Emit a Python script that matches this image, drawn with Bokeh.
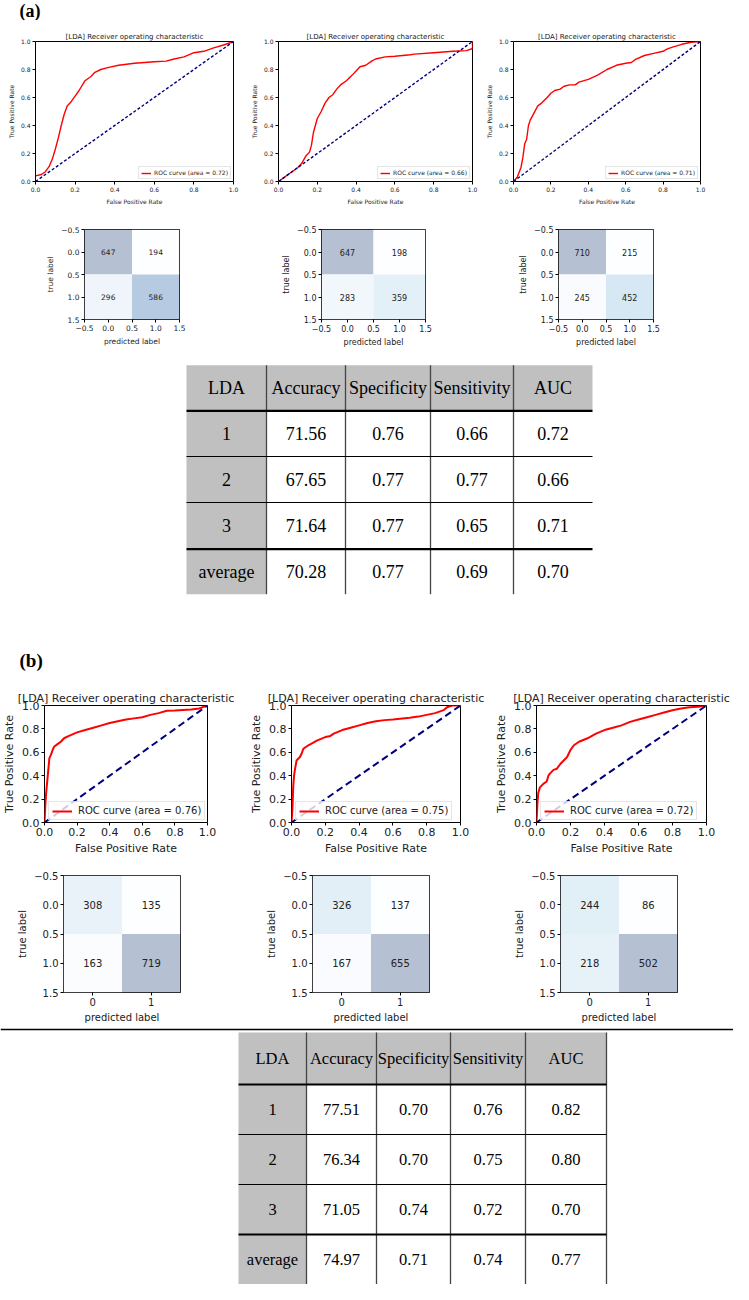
import numpy as np
from bokeh.plotting import figure
from bokeh.layouts import column, row
from bokeh.models import Range1d, FixedTicker, Legend, LegendItem, ColumnDataSource
from bokeh.core.properties import value
from bokeh.palettes import Blues256
from bokeh.embed import file_html
from bokeh.resources import INLINE

# ---------------- data ----------------
roc_title = "[LDA] Receiver operating characteristic"
roc_ticks = [0.0, 0.2, 0.4, 0.6, 0.8, 1.0]
chance = [0.0, 1.0]

a1_fpr = [0.0, 0.03, 0.05, 0.07, 0.085, 0.10, 0.115, 0.13, 0.145, 0.16, 0.18, 0.20, 0.22, 0.25, 0.28, 0.30, 0.33, 0.37, 0.42, 0.50, 0.60, 0.66, 0.70, 0.75, 0.80, 0.85, 0.90, 0.95, 1.0]
a1_tpr = [0.04, 0.05, 0.07, 0.11, 0.16, 0.23, 0.31, 0.40, 0.48, 0.54, 0.57, 0.61, 0.65, 0.72, 0.75, 0.78, 0.80, 0.815, 0.83, 0.845, 0.855, 0.86, 0.875, 0.89, 0.92, 0.93, 0.955, 0.975, 1.0]
a2_fpr = [0.0, 0.05, 0.10, 0.12, 0.14, 0.16, 0.17, 0.18, 0.19, 0.20, 0.22, 0.24, 0.26, 0.28, 0.30, 0.32, 0.35, 0.38, 0.40, 0.42, 0.45, 0.48, 0.50, 0.55, 0.60, 0.68, 0.70, 0.80, 0.90, 0.97, 1.0, 1.0]
a2_tpr = [0.0, 0.05, 0.10, 0.13, 0.18, 0.21, 0.26, 0.35, 0.40, 0.45, 0.50, 0.56, 0.60, 0.62, 0.66, 0.69, 0.72, 0.76, 0.79, 0.82, 0.83, 0.86, 0.875, 0.89, 0.895, 0.905, 0.91, 0.92, 0.93, 0.935, 0.95, 1.0]
a3_fpr = [0.0, 0.02, 0.04, 0.05, 0.06, 0.07, 0.08, 0.09, 0.11, 0.13, 0.15, 0.18, 0.20, 0.22, 0.25, 0.27, 0.30, 0.33, 0.35, 0.40, 0.45, 0.50, 0.55, 0.60, 0.63, 0.65, 0.70, 0.75, 0.80, 0.82, 0.85, 0.90, 0.95, 1.0]
a3_tpr = [0.0, 0.03, 0.10, 0.17, 0.27, 0.30, 0.40, 0.44, 0.49, 0.54, 0.56, 0.60, 0.63, 0.65, 0.66, 0.68, 0.69, 0.69, 0.71, 0.73, 0.76, 0.80, 0.83, 0.845, 0.85, 0.87, 0.90, 0.915, 0.93, 0.945, 0.96, 0.98, 0.995, 1.0]
auc_a = ["0.72", "0.66", "0.71"]

b1_fpr = [0.0, 0.005, 0.01, 0.02, 0.03, 0.04, 0.05, 0.06, 0.08, 0.10, 0.12, 0.15, 0.20, 0.25, 0.30, 0.35, 0.40, 0.45, 0.50, 0.55, 0.60, 0.65, 0.70, 0.75, 0.80, 0.90, 0.95, 1.0]
b1_tpr = [0.0, 0.15, 0.25, 0.40, 0.55, 0.58, 0.62, 0.65, 0.67, 0.69, 0.72, 0.74, 0.77, 0.79, 0.81, 0.83, 0.85, 0.865, 0.88, 0.89, 0.90, 0.92, 0.935, 0.955, 0.957, 0.965, 0.975, 1.0]
b2_fpr = [0.0, 0.005, 0.01, 0.015, 0.02, 0.03, 0.05, 0.06, 0.07, 0.10, 0.15, 0.20, 0.23, 0.25, 0.30, 0.35, 0.40, 0.45, 0.50, 0.55, 0.60, 0.70, 0.75, 0.80, 0.85, 0.90, 0.92, 0.95, 1.0]
b2_tpr = [0.0, 0.10, 0.30, 0.40, 0.45, 0.53, 0.56, 0.59, 0.63, 0.66, 0.70, 0.73, 0.74, 0.76, 0.79, 0.81, 0.83, 0.85, 0.865, 0.875, 0.88, 0.895, 0.905, 0.92, 0.935, 0.96, 0.985, 1.0, 1.0]
b3_fpr = [0.0, 0.005, 0.01, 0.02, 0.04, 0.06, 0.07, 0.08, 0.10, 0.12, 0.14, 0.16, 0.18, 0.20, 0.22, 0.25, 0.30, 0.35, 0.40, 0.45, 0.50, 0.55, 0.60, 0.65, 0.70, 0.75, 0.80, 0.85, 0.90, 0.95, 1.0]
b3_tpr = [0.0, 0.15, 0.25, 0.30, 0.33, 0.35, 0.40, 0.42, 0.45, 0.46, 0.50, 0.53, 0.56, 0.62, 0.66, 0.69, 0.72, 0.76, 0.79, 0.81, 0.83, 0.86, 0.88, 0.90, 0.92, 0.94, 0.96, 0.975, 0.985, 0.99, 1.0]
auc_b = ["0.76", "0.75", "0.72"]

cm_a1 = [[647, 194], [296, 586]]
cm_a2 = [[647, 198], [283, 359]]
cm_a3 = [[710, 215], [245, 452]]
cm_b1 = [[308, 135], [163, 719]]
cm_b2 = [[326, 137], [167, 655]]
cm_b3 = [[244, 86], [218, 502]]
cm_ticks = [-0.5, 0.0, 0.5, 1.0, 1.5]
cm_tick_labels = ["\u22120.5", "0.0", "0.5", "1.0", "1.5"]
cm_b_xticks = [0, 1]
cm_b_xtick_labels = ["0", "1"]

table_header = ["LDA", "Accuracy", "Specificity", "Sensitivity", "AUC"]
table_rows = ["1", "2", "3", "average"]
tab_a_acc = ["71.56", "67.65", "71.64", "70.28"]
tab_a_spe = ["0.76", "0.77", "0.77", "0.77"]
tab_a_sen = ["0.66", "0.77", "0.65", "0.69"]
tab_a_auc = ["0.72", "0.66", "0.71", "0.70"]
tab_b_acc = ["77.51", "76.34", "71.05", "74.97"]
tab_b_spe = ["0.70", "0.70", "0.74", "0.71"]
tab_b_sen = ["0.76", "0.75", "0.72", "0.74"]
tab_b_auc = ["0.82", "0.80", "0.70", "0.77"]

# ---------------- helpers ----------------
FONT = "DejaVu Sans"
SERIF = "Liberation Serif"


def base_fig(w, h, l, r, t, b, xr, yr, title=None):
    p = figure(width=w, height=h, x_range=xr, y_range=yr, title=title,
               min_border_left=l, min_border_right=r, min_border_top=t, min_border_bottom=b,
               output_backend="svg", toolbar_location=None)
    p.xgrid.visible = False
    p.ygrid.visible = False
    p.outline_line_color = "black"
    p.outline_line_width = 1
    p.background_fill_color = "white"
    p.border_fill_color = "white"
    for ax in (p.xaxis[0], p.yaxis[0]):
        ax.axis_line_color = None
        ax.major_tick_out = 3
        ax.major_tick_in = 0
        ax.minor_tick_out = 0
        ax.minor_tick_in = 0
        ax.major_tick_line_color = "black"
        ax.major_label_standoff = 2
        ax.axis_label_standoff = 3
        ax.major_label_text_font = FONT
        ax.axis_label_text_font = FONT
        ax.axis_label_text_font_style = "normal"
        ax.major_label_text_color = "#222222"
        ax.axis_label_text_color = "#222222"
    return p


def roc_fig(fpr, tpr, auc, w, h, l, r, t, b, fs, tfs, lfs, lw, dash, legend_loc, glyph_w):
    p = base_fig(w, h, l, r, t, b, Range1d(0, 1), Range1d(0, 1), title=roc_title)
    p.title.align = "center"
    p.title.text_font = FONT
    p.title.text_font_style = "normal"
    p.title.text_font_size = f"{tfs}px"
    p.title.text_color = "#222222"
    p.title.standoff = 2
    p.xaxis.ticker = FixedTicker(ticks=roc_ticks)
    p.yaxis.ticker = FixedTicker(ticks=roc_ticks)
    p.xaxis.major_label_overrides = {v: f"{v:.1f}" for v in roc_ticks}
    p.yaxis.major_label_overrides = {v: f"{v:.1f}" for v in roc_ticks}
    p.xaxis.axis_label = "False Positive Rate"
    p.yaxis.axis_label = "True Positive Rate"
    for ax in (p.xaxis[0], p.yaxis[0]):
        ax.major_label_text_font_size = f"{fs}px"
        ax.axis_label_text_font_size = f"{fs}px"
    rr = p.line(fpr, tpr, line_color="red", line_width=lw)
    p.line(chance, chance, line_color="navy", line_width=lw, line_dash=dash)
    leg = Legend(items=[LegendItem(label=f"ROC curve (area = {auc})", renderers=[rr])],
                 location=legend_loc)
    leg.label_text_font = FONT
    leg.label_text_font_size = f"{lfs}px"
    leg.label_text_color = "#222222"
    leg.glyph_width = glyph_w
    leg.glyph_height = int(lfs)
    leg.label_height = int(lfs)
    leg.label_standoff = max(3, int(lfs * 0.6))
    leg.padding = max(2, int(lfs * 0.35))
    leg.spacing = 0
    leg.margin = max(2, int(lfs * 0.4))
    leg.border_line_color = "#cccccc"
    leg.border_line_width = 1
    leg.background_fill_alpha = 0.8
    p.add_layout(leg)
    return p


def cm_colors(cm):
    vals = np.array(cm, dtype=float)
    lo, hi = vals.min(), vals.max()
    out = []
    for v in vals.ravel():
        t = (v - lo) / (hi - lo)
        c = Blues256[255 - int(round(t * 255))]
        rgb = [int(c[k:k + 2], 16) for k in (1, 3, 5)]
        bl = [int(round(0.7 * 255 + 0.3 * x)) for x in rgb]
        out.append("#%02x%02x%02x" % tuple(bl))
    return out


def cm_fig(cm, w, h, l, r, t, b, fs, xticks, xlabels):
    p = base_fig(w, h, l, r, t, b, Range1d(-0.5, 1.5), Range1d(1.5, -0.5))
    xs, ys, txt = [], [], []
    for i in range(2):
        for j in range(2):
            xs.append(j)
            ys.append(i)
            txt.append(str(cm[i][j]))
    src = ColumnDataSource(dict(x=xs, y=ys, t=txt, c=cm_colors(cm)))
    p.rect(x="x", y="y", width=1, height=1, fill_color="c", line_color=None, source=src)
    p.text(x="x", y="y", text="t", text_align="center", text_baseline="middle",
           text_font=value(FONT), text_font_size=f"{fs}px", text_color="#222222", source=src)
    p.xaxis.ticker = FixedTicker(ticks=xticks)
    p.xaxis.major_label_overrides = dict(zip(xticks, xlabels))
    p.yaxis.ticker = FixedTicker(ticks=cm_ticks)
    p.yaxis.major_label_overrides = dict(zip(cm_ticks, cm_tick_labels))
    p.xaxis.axis_label = "predicted label"
    p.yaxis.axis_label = "true label"
    for ax in (p.xaxis[0], p.yaxis[0]):
        ax.major_label_text_font_size = f"{fs}px"
        ax.axis_label_text_font_size = f"{fs}px"
    return p


def canvas(w, h):
    p = figure(width=w, height=h, x_range=Range1d(0, w), y_range=Range1d(h, 0),
               min_border=0, output_backend="svg", toolbar_location=None,
               x_axis_location=None, y_axis_location=None)
    p.xgrid.visible = False
    p.ygrid.visible = False
    p.outline_line_color = None
    return p


def draw_table(p, xe, ye, acc, spe, sen, auc, fs, right_line=False):
    cols = [table_rows, acc, spe, sen, auc]
    L, R, T, B, F = [], [], [], [], []
    tx, ty, tt = [], [], []
    for j in range(5):
        L.append(xe[j]); R.append(xe[j + 1]); T.append(ye[0]); B.append(ye[1]); F.append("#c0c0c0")
        tx.append((xe[j] + xe[j + 1]) / 2); ty.append((ye[0] + ye[1]) / 2); tt.append(table_header[j])
    for i in range(4):
        for j in range(5):
            L.append(xe[j]); R.append(xe[j + 1]); T.append(ye[i + 1]); B.append(ye[i + 2])
            F.append("#c0c0c0" if j == 0 else "white")
            tx.append((xe[j] + xe[j + 1]) / 2); ty.append((ye[i + 1] + ye[i + 2]) / 2)
            tt.append(cols[j][i])
    p.quad(left=L, right=R, top=T, bottom=B, fill_color=F, line_color=None)
    p.text(x=tx, y=ty, text=tt, text_align="center", text_baseline="middle",
           text_font=value(SERIF), text_font_size=f"{fs}px", text_color="black")
    vx = xe[1:5] + ([xe[5]] if right_line else [])
    p.segment(x0=vx, y0=[ye[0]] * len(vx), x1=vx, y1=[ye[5]] * len(vx),
              line_color="#444444", line_width=1.3)
    p.segment(x0=[xe[0]] * 2, y0=[ye[1], ye[4]], x1=[xe[5]] * 2, y1=[ye[1], ye[4]],
              line_color="black", line_width=2.2)
    p.segment(x0=[xe[0]] * 2, y0=[ye[2], ye[3]], x1=[xe[5]] * 2, y1=[ye[2], ye[3]],
              line_color="black", line_width=1.1)


# ---------------- section (a) ----------------
head_a = canvas(733, 20)
head_a.text(x=[19], y=[10.5], text=["(a)"], text_align="left", text_baseline="middle",
            text_font=value(SERIF), text_font_style="bold", text_font_size="18px", text_color="black")

ra1 = roc_fig(a1_fpr, a1_tpr, auc_a[0], 247, 187, 35, 14, 21, 26, 6, 7, 6, 1.4, "3 2", "bottom_right", 10)
ra2 = roc_fig(a2_fpr, a2_tpr, auc_a[1], 235, 187, 25, 10, 19, 26, 6, 7, 6, 1.4, "3 2", "bottom_right", 10)
ra3 = roc_fig(a3_fpr, a3_tpr, auc_a[2], 251, 187, 26, 33, 20, 23, 6, 7, 6, 1.4, "3 2", "bottom_right", 10)

ca1 = cm_fig(cm_a1, 247, 150, 84, 68, 21, 34, 7.5, cm_ticks, cm_tick_labels)
ca2 = cm_fig(cm_a2, 235, 150, 74, 57, 17, 38, 8, cm_ticks, cm_tick_labels)
ca3 = cm_fig(cm_a3, 251, 150, 76, 80, 22, 33, 8, cm_ticks, cm_tick_labels)

tab_a = canvas(733, 315)
draw_table(tab_a, [186, 266, 345, 430, 513, 592], [7.7, 53.3, 99, 145, 191.7, 236.7],
           tab_a_acc, tab_a_spe, tab_a_sen, tab_a_auc, 18)
tab_a.text(x=[19], y=[303], text=["(b)"], text_align="left", text_baseline="middle",
           text_font=value(SERIF), text_font_style="bold", text_font_size="19px", text_color="black")

# ---------------- section (b) ----------------
rb1 = roc_fig(b1_fpr, b1_tpr, auc_b[0], 247, 185, 35, 40, 33, 32, 11, 11, 10, 2, "7 4", (4, 2), 20)
rb2 = roc_fig(b2_fpr, b2_tpr, auc_b[1], 245, 185, 36, 32, 30, 32, 11, 11, 10, 2, "7 4", (4, 2), 20)
rb3 = roc_fig(b3_fpr, b3_tpr, auc_b[2], 241, 185, 39, 27, 32, 32, 11, 11, 10, 2, "7 4", (4, 2), 20)

cb1 = cm_fig(cm_b1, 247, 170, 63, 67, 18, 35, 10, cm_b_xticks, cm_b_xtick_labels)
cb2 = cm_fig(cm_b2, 245, 170, 65, 63, 18, 35, 10, cm_b_xticks, cm_b_xtick_labels)
cb3 = cm_fig(cm_b3, 241, 170, 68, 56, 18, 35, 10, cm_b_xticks, cm_b_xtick_labels)

tab_b = canvas(733, 257)
tab_b.segment(x0=[0], y0=[2], x1=[733], y1=[2], line_color="black", line_width=1.5)
draw_table(tab_b, [238, 306, 376, 450, 525, 606], [5, 57, 107, 157, 207, 257],
           tab_b_acc, tab_b_spe, tab_b_sen, tab_b_auc, 16.5, right_line=True)

layout = column(
    head_a,
    row(ra1, ra2, ra3, spacing=0),
    row(ca1, ca2, ca3, spacing=0),
    tab_a,
    row(rb1, rb2, rb3, spacing=0),
    row(cb1, cb2, cb3, spacing=0),
    tab_b,
    spacing=0,
)

open("out.html", "w").write(file_html(layout, INLINE))
